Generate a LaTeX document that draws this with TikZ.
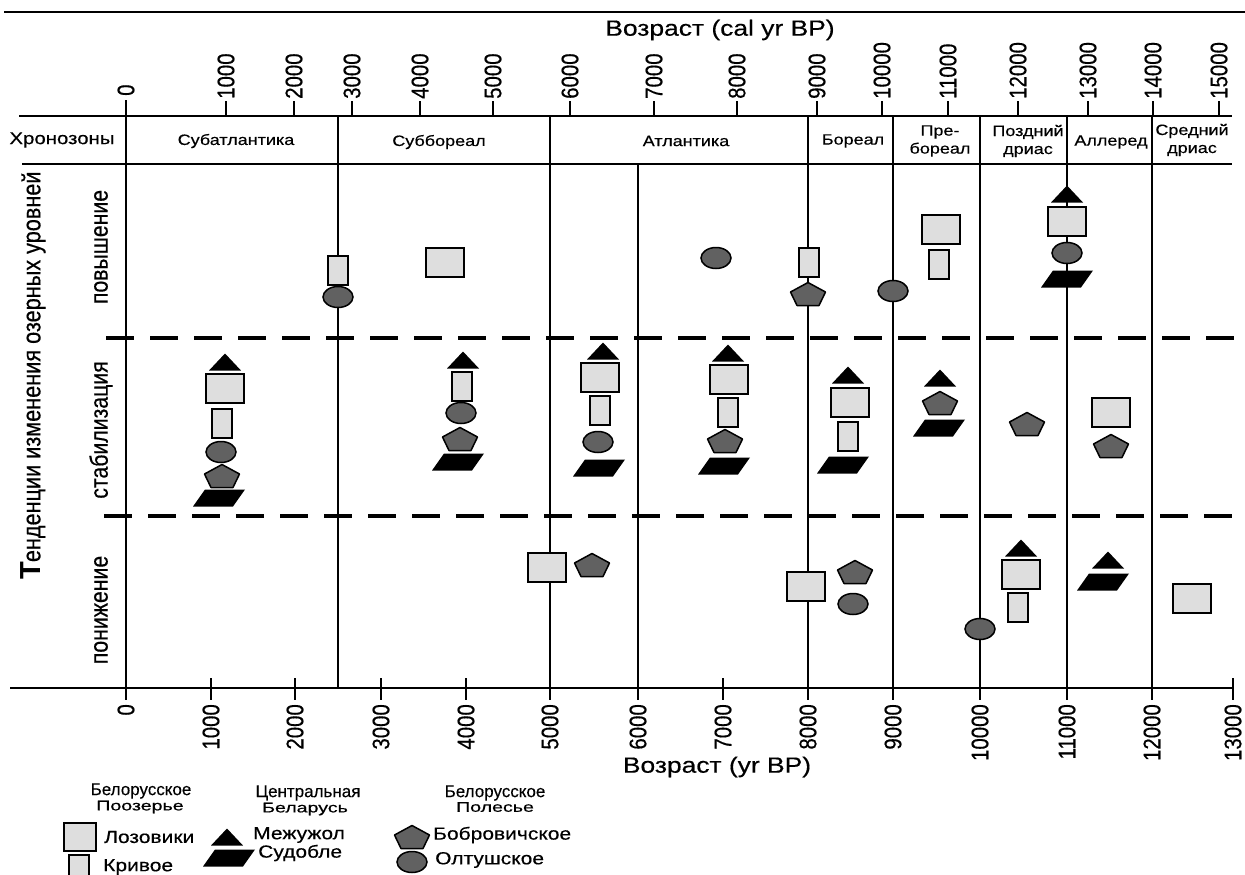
\documentclass[tikz,border=0pt]{standalone}
\usepackage{fontspec}
\setmainfont{Liberation Sans}
\newfontfamily\hfont[FakeStretch=1.2,FakeBold=0.4]{Liberation Sans}
\newfontfamily\vfont[FakeStretch=0.85,FakeBold=0.4]{Liberation Sans}
\newfontfamily\xfont[FakeStretch=1.4,FakeBold=0.6]{Liberation Sans}
\newfontfamily\nfont[FakeBold=0.3]{Liberation Sans}
\definecolor{lightfill}{gray}{0.87}
\definecolor{darkfill}{gray}{0.38}
\tikzset{
  lz/.pic={\filldraw[fill=lightfill, line width=2pt] (-19,-14.5) rectangle (19,14.5);},
  lzs/.pic={\filldraw[fill=lightfill, line width=2pt] (-16,-14) rectangle (16,14);},
  kr/.pic={\filldraw[fill=lightfill, line width=2pt] (-10,-14.5) rectangle (10,14.5);},
  mz/.pic={\fill (-16,8.5) -- (16,8.5) -- (0,-8.5) -- cycle;},
  sd/.pic={\fill (-26,8.5) -- (14,8.5) -- (26,-8.5) -- (-14,-8.5) -- cycle;},
  bb/.pic={\filldraw[fill=darkfill, line width=1.5pt, line join=round] (0,-11.5) -- (17.5,-2) -- (11,11.5) -- (-11,11.5) -- (-17.5,-2) -- cycle;},
  ol/.pic={\filldraw[fill=darkfill, line width=1.5pt] (0,0) ellipse [x radius=15pt, y radius=10.5pt];}
}
\begin{document}
\begin{tikzpicture}[x=1pt,y=-1pt,
  ax/.style={line width=2pt},
  dsh/.style={line width=4pt, dash pattern=on 28pt off 16pt},
  ticklab/.style={rotate=90, inner sep=1pt, font=\vfont\fontsize{24}{24}\selectfont},
  zone/.style={font=\hfont\fontsize{15}{18}\selectfont, align=center, inner sep=0pt},
  rowlab/.style={rotate=90, inner sep=0pt, font=\vfont\fontsize{25}{25}\selectfont},
  title/.style={font=\hfont\fontsize{22}{22}\selectfont, inner sep=0pt},
  leghead/.style={font=\nfont\fontsize{17}{17}\selectfont, inner sep=0pt},
  leghead2/.style={font=\xfont\fontsize{14}{14}\selectfont, inner sep=0pt},
  legtext/.style={font=\hfont\fontsize{17.5}{17.5}\selectfont, inner sep=0pt, anchor=west}
]
\useasboundingbox (0,0) rectangle (1245,875);
\fill[white] (0,0) rectangle (1245,875);

% horizontal lines
\draw[line width=2.5pt] (4,12) -- (1245,12);
\draw[ax] (19,116) -- (1232,116);
\draw[ax] (22,164) -- (1232,164);
\draw[dsh] (106,338) -- (1238,338);
\draw[dsh] (104,516) -- (1238,516);
\draw[ax] (10,688) -- (1234,688);

% vertical lines
\draw[ax] (126,100) -- (126,700);
\foreach \x in {338,550,808,893,980,1067,1152} \draw[ax] (\x,116) -- (\x,688);
\draw[ax] (638,164) -- (638,688);

% top axis (cal yr BP)
\node[ticklab, anchor=west] (t0) at (126,97) {0};
\foreach \t/\x in {1000/226,2000/294,3000/352,4000/420,5000/493,6000/570,7000/654,8000/737,9000/817,10000/882,11000/948,12000/1018,13000/1088,14000/1153,15000/1219}{
  \draw[ax] (\x,116) -- (\x,101);
  \node[ticklab, anchor=west] (t\t) at (\x,100) {\t};
}
\node[title] (toptitle) at (720,30) {Возраст (cal yr BP)};

% bottom axis (yr BP)
\foreach \t/\x in {0/126,1000/211,2000/295,3000/381,4000/466,5000/550,6000/638,7000/723,8000/808,9000/893,10000/980,11000/1067,12000/1152,13000/1233}{
  \draw[ax] (\x,678) -- (\x,700);
  \node[ticklab, anchor=east] (b\t) at (\x,703) {\t};
}
\node[title] (bottitle) at (717,767) {Возраст (yr BP)};

% chronozones
\node[font=\hfont\fontsize{17}{17}\selectfont, inner sep=0pt] (chz) at (62,140) {Хронозоны};
\node[zone] (z1) at (236,141) {Субатлантика};
\node[zone] (z2) at (439,142) {Суббореал};
\node[zone] (z3) at (686,141) {Атлантика};
\node[zone] (z4) at (853,141) {Бореал};
\node[zone] (z5) at (940,141) {Пре-\\бореал};
\node[zone] (z6) at (1028,141) {Поздний\\дриас};
\node[zone] (z7) at (1111,142) {Аллеред};
\node[zone] (z8) at (1192,140) {Средний\\дриас};

% y labels
\node[rotate=90, inner sep=0pt, anchor=west] (ylab) at (33,580)
  {{\fontsize{29}{29}\bfseries Т}{\vfont\fontsize{25.5}{25.5}\selectfont енденции изменения озерных уровней}};
\node[rowlab] (r1) at (101,247) {повышение};
\node[rowlab] (r2) at (101,430) {стабилизация};
\node[rowlab] (r3) at (101,610) {понижение};

% --- повышение
\pic (a1) at (338,270) {kr};
\pic (a2) at (338,297) {ol};
\pic (a3) at (445,262) {lz};
\pic (a4) at (716,258) {ol};
\pic (a5) at (809,262) {kr};
\pic (a6) at (808,294) {bb};
\pic (a7) at (893,291) {ol};
\pic (a8) at (941,229) {lz};
\pic (a9) at (939,264) {kr};
\pic (a10) at (1067,194) {mz};
\pic (a11) at (1067,221) {lz};
\pic (a12) at (1067,253) {ol};
\pic (a13) at (1067,279) {sd};

% --- стабилизация
\pic (s1) at (225,362) {mz};
\pic (s2) at (225,388) {lz};
\pic (s3) at (222,423) {kr};
\pic (s4) at (221,452) {ol};
\pic (s5) at (222,476) {bb};
\pic (s6) at (219,498) {sd};

\pic (s7) at (463,360) {mz};
\pic (s8) at (462,386) {kr};
\pic (s9) at (461,413) {ol};
\pic (s10) at (460,439) {bb};
\pic (s11) at (458,462) {sd};

\pic (s12) at (603,351) {mz};
\pic (s13) at (600,377) {lz};
\pic (s14) at (600,410) {kr};
\pic (s15) at (598,442) {ol};
\pic (s16) at (599,468) {sd};

\pic (s17) at (728,353) {mz};
\pic (s18) at (729,379) {lz};
\pic (s19) at (728,412) {kr};
\pic (s20) at (725,441) {bb};
\pic (s21) at (724,466) {sd};

\pic (s22) at (848,375) {mz};
\pic (s23) at (850,402) {lz};
\pic (s24) at (848,436) {kr};
\pic (s25) at (843,465) {sd};

\pic (s26) at (940,378) {mz};
\pic (s27) at (940,403) {bb};
\pic (s28) at (939,428) {sd};

\pic (s29) at (1027,424) {bb};
\pic (s30) at (1111,412) {lz};
\pic (s31) at (1111,446) {bb};

% --- понижение
\pic (d1) at (547,567) {lz};
\pic (d2) at (592,565) {bb};
\pic (d3) at (806,586) {lz};
\pic (d4) at (855,572) {bb};
\pic (d5) at (853,604) {ol};
\pic (d6) at (980,629) {ol};
\pic (d7) at (1021,548) {mz};
\pic (d8) at (1021,574) {lz};
\pic (d9) at (1018,607) {kr};
\pic (d10) at (1108,560) {mz};
\pic (d11) at (1103,582) {sd};
\pic (d12) at (1192,598) {lz};

% --- legend
\node[leghead] (h1a) at (141,791) {Белорусское};
\node[leghead2] (h1b) at (140,807) {Поозерье};
\node[leghead] (h2a) at (308,793) {Центральная};
\node[leghead2] (h2b) at (305,809) {Беларусь};
\node[leghead] (h3a) at (495,793) {Белорусское};
\node[leghead2] (h3b) at (495,807) {Полесье};

\pic (l1) at (80,837) {lzs};
\node[legtext] (t1) at (104,837) {Лозовики};
\pic (l2) at (79,869) {kr};
\node[legtext] (t2) at (103,867) {Кривое};
\pic (l3) at (227,837) {mz};
\node[legtext] (t3) at (253,835) {Межужол};
\pic (l4) at (229,858) {sd};
\node[legtext] (t4) at (258,853) {Судобле};
\pic (l5) at (412,837) {bb};
\node[legtext] (t5) at (433,835) {Бобровичское};
\pic (l6) at (412,862) {ol};
\node[legtext] (t6) at (435,860) {Олтушское};
\end{tikzpicture}
\end{document}
